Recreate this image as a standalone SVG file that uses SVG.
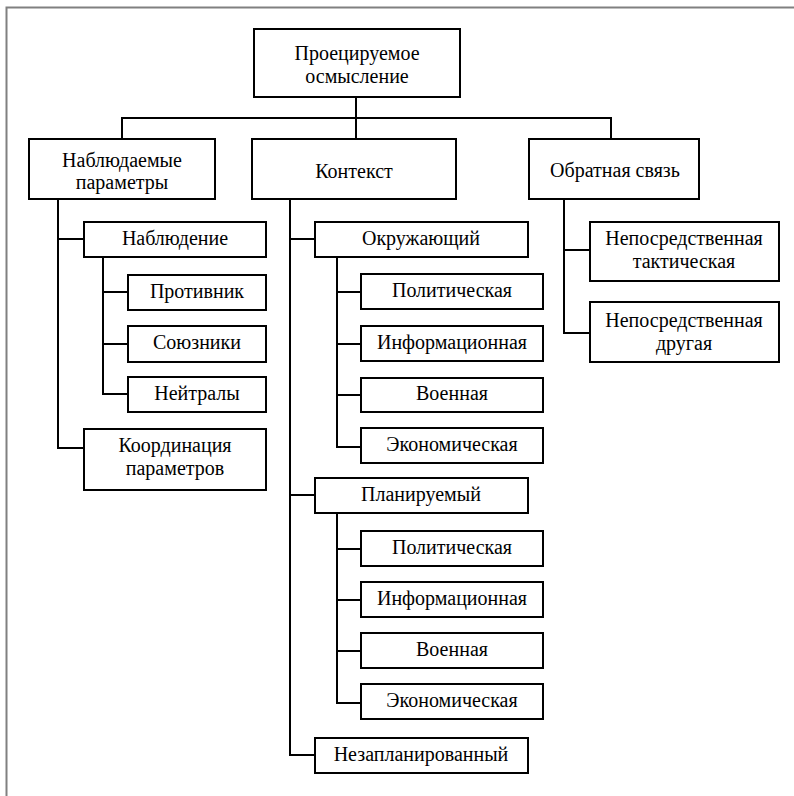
<svg xmlns="http://www.w3.org/2000/svg" width="794" height="796" viewBox="0 0 794 796">
<style>
.b{fill:#fff;stroke:#000;stroke-width:2}
.c{fill:none;stroke:#000;stroke-width:2}
</style>
<rect width="794" height="796" fill="#fff"/>
<path d="M6.5 796V7.5H794" fill="none" stroke="#808080" stroke-width="2"/>
<g id="connectors" class="c">
<path d="M356 97V139M122 139V118H611V139"/>
<path d="M58 199V448H84M58 239H84"/>
<path d="M103 257V394H128M103 292H128M103 344H128"/>
<path d="M290 199V755H315M290 239H315M290 495H315"/>
<path d="M337 257V447H361M337 292H361M337 344H361M337 395H361"/>
<path d="M337 513V703H361M337 549H361M337 600H361M337 651H361"/>
<path d="M564 199V333H590M564 250H590"/>
</g>
<g id="n0"><rect class="b" x="254" y="29" width="206" height="68"/><text font-family="Liberation Serif" font-size="20" text-anchor="middle" x="357" y="60">Проецируемое</text><text font-family="Liberation Serif" font-size="20" text-anchor="middle" x="357" y="83">осмысление</text></g>
<g id="n1"><rect class="b" x="29" y="139" width="186" height="60"/><text font-family="Liberation Serif" font-size="20" text-anchor="middle" x="122" y="167">Наблюдаемые</text><text font-family="Liberation Serif" font-size="20" text-anchor="middle" x="122" y="189">параметры</text></g>
<g id="n2"><rect class="b" x="252" y="139" width="204" height="60"/><text font-family="Liberation Serif" font-size="20" text-anchor="middle" x="354" y="178">Контекст</text></g>
<g id="n3"><rect class="b" x="529" y="139" width="170" height="60"/><text font-family="Liberation Serif" font-size="20" text-anchor="middle" x="615" y="177">Обратная связь</text></g>
<g id="n4"><rect class="b" x="84" y="222" width="182" height="35"/><text font-family="Liberation Serif" font-size="20" text-anchor="middle" x="175" y="245">Наблюдение</text></g>
<g id="n5"><rect class="b" x="128" y="275" width="138" height="35"/><text font-family="Liberation Serif" font-size="20" text-anchor="middle" x="197" y="298">Противник</text></g>
<g id="n6"><rect class="b" x="128" y="326" width="138" height="36"/><text font-family="Liberation Serif" font-size="20" text-anchor="middle" x="197" y="349">Союзники</text></g>
<g id="n7"><rect class="b" x="128" y="377" width="138" height="35"/><text font-family="Liberation Serif" font-size="20" text-anchor="middle" x="197" y="400">Нейтралы</text></g>
<g id="n8"><rect class="b" x="84" y="429" width="182" height="61"/><text font-family="Liberation Serif" font-size="20" text-anchor="middle" x="175" y="452">Координация</text><text font-family="Liberation Serif" font-size="20" text-anchor="middle" x="175" y="475">параметров</text></g>
<g id="n9"><rect class="b" x="315" y="222" width="213" height="35"/><text font-family="Liberation Serif" font-size="20" text-anchor="middle" x="421" y="245">Окружающий</text></g>
<g id="n10"><rect class="b" x="361" y="274" width="182" height="35"/><text font-family="Liberation Serif" font-size="20" text-anchor="middle" x="452" y="297">Политическая</text></g>
<g id="n11"><rect class="b" x="361" y="326" width="182" height="35"/><text font-family="Liberation Serif" font-size="20" text-anchor="middle" x="452" y="349">Информационная</text></g>
<g id="n12"><rect class="b" x="361" y="378" width="182" height="34"/><text font-family="Liberation Serif" font-size="20" text-anchor="middle" x="452" y="400">Военная</text></g>
<g id="n13"><rect class="b" x="361" y="428" width="182" height="35"/><text font-family="Liberation Serif" font-size="20" text-anchor="middle" x="452" y="451">Экономическая</text></g>
<g id="n14"><rect class="b" x="315" y="478" width="213" height="35"/><text font-family="Liberation Serif" font-size="20" text-anchor="middle" x="421" y="501">Планируемый</text></g>
<g id="n15"><rect class="b" x="361" y="531" width="182" height="35"/><text font-family="Liberation Serif" font-size="20" text-anchor="middle" x="452" y="554">Политическая</text></g>
<g id="n16"><rect class="b" x="361" y="582" width="182" height="35"/><text font-family="Liberation Serif" font-size="20" text-anchor="middle" x="452" y="605">Информационная</text></g>
<g id="n17"><rect class="b" x="361" y="633" width="182" height="35"/><text font-family="Liberation Serif" font-size="20" text-anchor="middle" x="452" y="656">Военная</text></g>
<g id="n18"><rect class="b" x="361" y="684" width="182" height="35"/><text font-family="Liberation Serif" font-size="20" text-anchor="middle" x="452" y="707">Экономическая</text></g>
<g id="n19"><rect class="b" x="315" y="738" width="213" height="35"/><text font-family="Liberation Serif" font-size="20" text-anchor="middle" x="421" y="761">Незапланированный</text></g>
<g id="n20"><rect class="b" x="590" y="222" width="189" height="59"/><text font-family="Liberation Serif" font-size="20" text-anchor="middle" x="684" y="245">Непосредственная</text><text font-family="Liberation Serif" font-size="20" text-anchor="middle" x="684" y="268">тактическая</text></g>
<g id="n21"><rect class="b" x="590" y="302" width="189" height="60"/><text font-family="Liberation Serif" font-size="20" text-anchor="middle" x="684" y="327">Непосредственная</text><text font-family="Liberation Serif" font-size="20" text-anchor="middle" x="684" y="350">другая</text></g>
</svg>
